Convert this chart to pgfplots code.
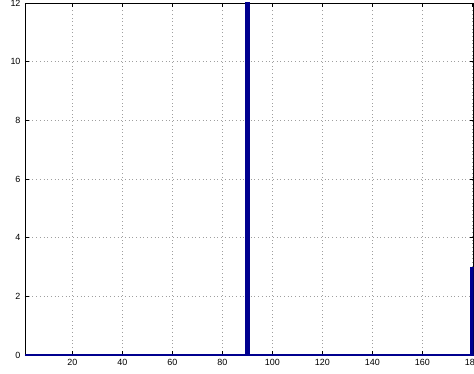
\documentclass[border=0pt]{standalone}
\usepackage{pgfplots}
\pgfplotsset{compat=1.18}
\usepackage{fontspec}
\setmainfont{Liberation Sans}
\definecolor{barblue}{rgb}{0,0,0.56}
\begin{document}
\begin{tikzpicture}
\begin{axis}[
  name=ax,
  scale only axis,
  width=448.5bp, height=352bp,
  xmin=1, xmax=180.5, ymin=0, ymax=12,
  xtick={20,40,...,180},
  ytick={0,2,...,12},
  tick align=inside,
  major tick length=4bp,
  tick style={black, line width=0.5pt},
  grid=major,
  grid style={dash pattern=on 0.7bp off 3bp, gray!75, line width=0.7pt},
  axis line style={black, line width=0.8pt},
  ticklabel style={font=\fontsize{9}{10}\selectfont},
  /pgf/number format/assume math mode=true,
  xticklabel style={yshift=-1bp},
  yticklabel style={xshift=-1bp},
  clip=true,
]
\addplot[barblue, line width=1.2pt] coordinates {(1,0) (180.5,0)};
\addplot[ybar, bar width=1.6, fill=barblue, draw=barblue, line width=0.2pt] coordinates {(90,14) (180,3)};
\end{axis}
\pgfresetboundingbox
\path[use as bounding box] ([xshift=-25bp,yshift=-19bp]ax.south west) rectangle ([xshift=0.5bp,yshift=3bp]ax.north east);
\end{tikzpicture}
\end{document}
